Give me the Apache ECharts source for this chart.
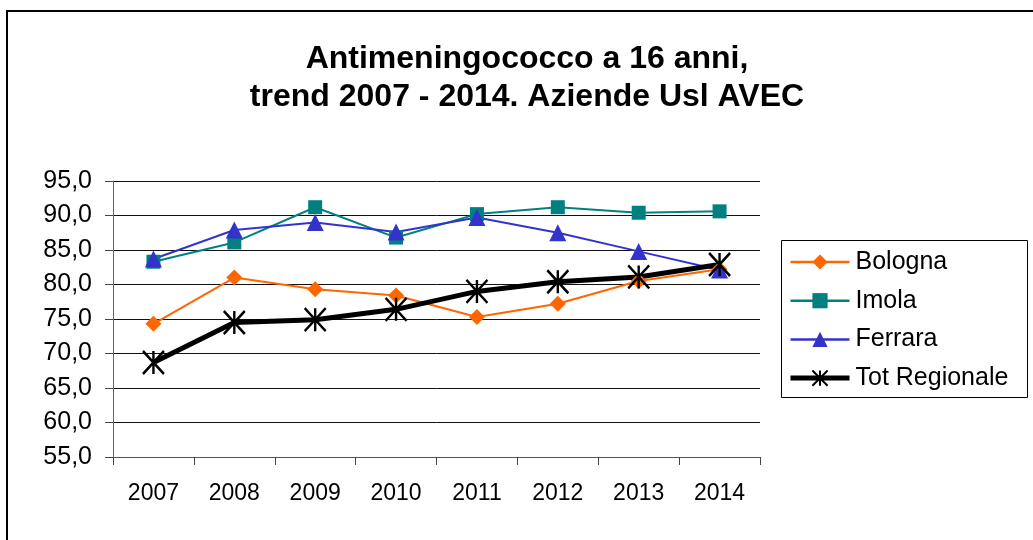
<!DOCTYPE html>
<html>
<head>
<meta charset="utf-8">
<title>Antimeningococco a 16 anni</title>
<script src="https://cdn.jsdelivr.net/npm/echarts@6/dist/echarts.min.js"></script>
<style>
  html, body { margin: 0; padding: 0; background: #fff; }
  #chart { width: 1033px; height: 540px; }
</style>
</head>
<body>
<div id="chart"></div>
<script>
// Coverage (%) of the anti-meningococcal vaccine at 16 years, 2007-2014
const years = ['2007', '2008', '2009', '2010', '2011', '2012', '2013', '2014'];
const bologna = [74.3, 81.0, 79.3, 78.4, 75.3, 77.2, 80.5, 82.2];
const imola = [83.3, 86.1, 91.2, 86.8, 90.2, 91.2, 90.4, 90.6];
const ferrara = [83.7, 87.9, 89.0, 87.6, 89.7, 87.5, 84.8, 82.1];
const totRegionale = [68.7, 74.5, 74.9, 76.4, 79.0, 80.4, 81.1, 82.9];

const titleLines = ['Antimeningococco a 16 anni,', 'trend 2007 - 2014. Aziende Usl AVEC'];

const FONT = "'Liberation Sans', Arial, sans-serif";

// asterisk marker: vertical stroke plus two diagonals
const asterisk = 'path://M0,0L20,22M20,0L0,22M10,0L10,22';

const chart = echarts.init(document.getElementById('chart'), null, { renderer: 'canvas' });

function lineSeries(name, data, color, symbol, size, width, extraItem) {
  return {
    name: name,
    type: 'line',
    data: data,
    symbol: symbol,
    symbolSize: size,
    showAllSymbol: true,
    lineStyle: { color: color, width: width },
    itemStyle: Object.assign({ color: color, borderWidth: 0, opacity: 1 }, extraItem || {}),
    emphasis: { disabled: true },
    animation: false,
    z: 3
  };
}

chart.setOption({
  backgroundColor: '#fff',
  animation: false,
  grid: { left: 113, right: 273, top: 181, bottom: 83, containLabel: false },
  xAxis: {
    type: 'category',
    data: years,
    boundaryGap: true,
    axisLine: { show: true, lineStyle: { color: '#555', width: 1 } },
    axisTick: { show: true, inside: false, length: 8, alignWithLabel: false, lineStyle: { color: '#444', width: 1 } },
    axisLabel: { color: '#000', fontFamily: FONT, fontSize: 23, lineHeight: 23, margin: 25 },
    splitLine: { show: false }
  },
  yAxis: {
    type: 'value',
    min: 55,
    max: 95,
    interval: 5,
    axisLine: { show: true, lineStyle: { color: '#666', width: 1 } },
    axisTick: { show: true, inside: false, length: 8, lineStyle: { color: '#444', width: 1 } },
    axisLabel: {
      color: '#000', fontFamily: FONT, fontSize: 25, margin: 21,
      formatter: v => v.toFixed(1).replace('.', ',')
    },
    splitLine: { show: true, lineStyle: { color: '#111', width: 1 } }
  },
  legend: {
    orient: 'vertical',
    left: 788,
    top: 247,
    padding: 0,
    itemWidth: 59,
    itemHeight: 19,
    itemGap: 8.7,
    selectedMode: false,
    textStyle: { color: '#000', fontFamily: FONT, fontSize: 25, lineHeight: 30, padding: [0, 0, 0, 1] },
    data: [
      { name: 'Bologna', lineStyle: { width: 2.5 } },
      { name: 'Imola', lineStyle: { width: 2.5 } },
      { name: 'Ferrara', lineStyle: { width: 2.5 } },
      { name: 'Tot Regionale', lineStyle: { width: 5 } }
    ]
  },
  series: [
    lineSeries('Bologna', bologna, '#FF6600', 'diamond', 16, 2),
    lineSeries('Imola', imola, '#008080', 'rect', 14, 2),
    lineSeries('Ferrara', ferrara, '#3333CC', 'triangle', 17, 2),
    lineSeries('Tot Regionale', totRegionale, '#000000', asterisk, [21, 23], 5,
      { borderColor: '#000', borderWidth: 2.5 })
  ],
  graphic: [
    // outer chart frame (left and top edges)
    {
      type: 'polyline',
      shape: { points: [[7, 540], [7, 11], [1033, 11]] },
      style: { stroke: '#000', lineWidth: 2, fill: null },
      silent: true
    },
    // legend box
    {
      type: 'rect',
      shape: { x: 781.5, y: 240.5, width: 246, height: 157 },
      style: { stroke: '#000', lineWidth: 1, fill: null },
      silent: true, z: -1
    },
    {
      type: 'text', x: 527, y: 59,
      style: { text: titleLines[0], font: "bold 32px " + FONT, fill: '#000', align: 'center', verticalAlign: 'middle' },
      silent: true
    },
    {
      type: 'text', x: 527, y: 97,
      style: { text: titleLines[1], font: "bold 32px " + FONT, fill: '#000', align: 'center', verticalAlign: 'middle' },
      silent: true
    }
  ]
});
</script>
</body>
</html>
